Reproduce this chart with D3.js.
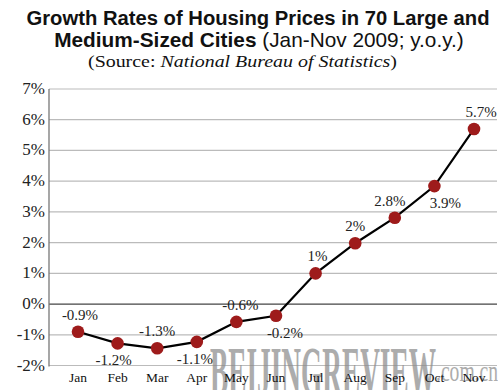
<!DOCTYPE html>
<html><head><meta charset="utf-8">
<script src="https://cdn.jsdelivr.net/npm/d3@7"></script>
<style>body{margin:0;background:#fff}svg{display:block}</style>
</head><body>
<script>
const months = ["Jan","Feb","Mar","Apr","May","Jun","Jul","Aug","Sep","Oct","Nov"];
const values = [-0.9,-1.28,-1.44,-1.23,-0.58,-0.38,1.0,1.98,2.81,3.84,5.7];
const labels = ["-0.9%","-1.2%","-1.3%","-1.1%","-0.6%","-0.2%","1%","2%","2.8%","3.9%","5.7%"];
const labelPos = ["above","below","above","below","above","below","above","above","above","below","above"];
const yTicks = [-2,-1,0,1,2,3,4,5,6,7];

const W=500,H=390;
const svg=d3.select("body").append("svg").attr("width",W).attr("height",H);
const x=d3.scalePoint().domain(months).range([78,474]);
const y=d3.scaleLinear().domain([-2,7]).range([365.5,89]);
const L=49,R=497;

// title
const t=svg.append("g").attr("font-family","Liberation Sans, Arial, sans-serif").attr("text-anchor","middle").attr("fill","#111");
t.append("text").attr("x",258).attr("y",25).attr("font-size",20).attr("font-weight","bold").attr("textLength",463).attr("lengthAdjust","spacingAndGlyphs").text("Growth Rates of Housing Prices in 70 Large and");
const t2=t.append("text").attr("x",259).attr("y",47).attr("font-size",20.8);
t2.append("tspan").attr("font-weight","bold").text("Medium-Sized Cities");
t2.append("tspan").text(" (Jan-Nov 2009; y.o.y.)");
const s=svg.append("text").attr("x",88).attr("y",67).attr("font-family","Liberation Serif, Times New Roman, serif").attr("font-size",17).attr("fill","#111").attr("textLength",309).attr("lengthAdjust","spacingAndGlyphs");
s.append("tspan").text("(Source: ");
s.append("tspan").attr("font-style","italic").text("National Bureau of Statistics");
s.append("tspan").text(")");

// gridlines
svg.append("g").selectAll("line").data(yTicks).join("line")
  .attr("x1",L).attr("x2",R).attr("y1",d=>y(d)).attr("y2",d=>y(d))
  .attr("stroke",d=>d===0?"#444":"#bbb").attr("stroke-width",d=>d===0?1.3:1.2);
// y axis line
svg.append("line").attr("x1",L).attr("x2",L).attr("y1",y(7)).attr("y2",y(-2)+1).attr("stroke","#777").attr("stroke-width",1.3);

// watermark
const wm=svg.append("g").attr("fill","#8a8a8a").attr("opacity",0.7).attr("font-family","Liberation Serif, Times New Roman, serif").attr("font-weight","bold");
wm.append("text").attr("x",210).attr("y",395).attr("font-size",70).attr("textLength",226).attr("lengthAdjust","spacingAndGlyphs").text("BEIJINGREVIEW");
wm.append("text").attr("x",436).attr("y",381).attr("font-size",30).attr("font-weight","normal").attr("textLength",62).attr("lengthAdjust","spacingAndGlyphs").text(".com.cn");

// y tick labels
svg.append("g").attr("font-family","Liberation Serif, Times New Roman, serif").attr("font-size",17).attr("fill","#222").attr("text-anchor","end")
  .selectAll("text").data(yTicks).join("text").attr("x",45).attr("y",d=>y(d)+5).text(d=>d+"%");

// x labels
svg.append("g").attr("font-family","Liberation Serif, Times New Roman, serif").attr("font-size",13.5).attr("fill","#111").attr("text-anchor","middle")
  .selectAll("text").data(months).join("text").attr("x",d=>x(d)).attr("y",382).text(d=>d);

// line
svg.append("path").datum(values).attr("fill","none").attr("stroke","#000").attr("stroke-width",2.2)
  .attr("d",d3.line().x((d,i)=>x(months[i])).y(d=>y(d)));
svg.append("g").selectAll("circle").data(values).join("circle")
  .attr("cx",(d,i)=>x(months[i])).attr("cy",d=>y(d)).attr("r",6.3).attr("fill","#9e1b1b");

// value labels
const dx=[2,-4,0,-2,4,9,2,0,-5,11,7];
svg.append("g").attr("font-family","Liberation Serif, Times New Roman, serif").attr("font-size",15).attr("fill","#222").attr("text-anchor","middle")
  .selectAll("text").data(values).join("text")
  .attr("x",(d,i)=>x(months[i])+dx[i])
  .attr("y",(d,i)=>labelPos[i]==="above"? y(d)-12 : y(d)+22)
  .text((d,i)=>labels[i]);
</script>
</body></html>
